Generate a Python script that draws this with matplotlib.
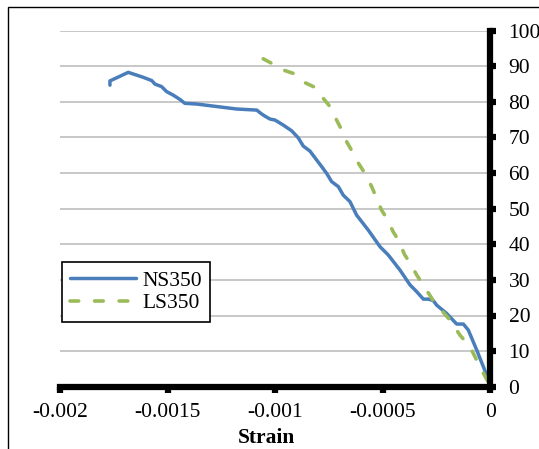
import matplotlib
matplotlib.use("Agg")
import matplotlib.pyplot as plt
from matplotlib.patches import Rectangle

# NS350 load–strain curve
ns_strain = [-0.001768, -0.001768, -0.001725, -0.001683, -0.001613, -0.001574, -0.001559,
             -0.001528, -0.001505, -0.001474, -0.001443, -0.001420, -0.001365, -0.001272,
             -0.001179, -0.001086, -0.001063, -0.001048, -0.001025, -0.001001, -0.000963,
             -0.000924, -0.000893, -0.000870, -0.000839, -0.000808, -0.000784, -0.000761,
             -0.000738, -0.000707, -0.000684, -0.000653, -0.000622, -0.000568, -0.000513,
             -0.000475, -0.000421, -0.000374, -0.000343, -0.000312, -0.000289, -0.000266,
             -0.000250, -0.000204, -0.000157, -0.000126, -0.000103, -0.000064, -0.000018, 0.0]
ns_load = [84.7, 85.9, 87.1, 88.3, 86.9, 86.0, 85.0,
           84.3, 82.9, 81.9, 80.7, 79.6, 79.4, 78.7,
           78.0, 77.7, 76.6, 76.0, 75.2, 74.9, 73.5,
           71.9, 69.9, 67.6, 66.2, 63.7, 61.8, 59.9,
           57.6, 56.2, 53.8, 52.0, 48.2, 44.0, 39.3,
           37.0, 32.8, 28.6, 26.7, 24.6, 24.6, 24.2,
           22.9, 20.6, 17.6, 17.6, 15.9, 10.3, 3.3, 0.0]

# LS350 load–strain curve
ls_strain = [-0.001056, -0.001009, -0.000955, -0.000916, -0.000862, -0.000816, -0.000777,
             -0.000746, -0.000715, -0.000691, -0.000668, -0.000638, -0.000614, -0.000583,
             -0.000552, -0.000506, -0.000482, -0.000452, -0.000428, -0.000400, -0.000374,
             -0.000343, -0.000328, -0.000281, -0.000258, -0.000235, -0.000188, -0.000142,
             -0.000095, -0.000057, 0.0]
ls_load = [92.1, 90.6, 88.8, 88.0, 85.4, 84.1, 81.0,
           78.7, 74.9, 72.1, 68.8, 65.6, 62.8, 59.9,
           56.2, 49.6, 47.3, 43.5, 41.2, 37.2, 34.7,
           31.4, 30.0, 25.6, 23.4, 22.0, 18.7, 14.5,
           11.2, 6.6, 0.0]

x_ticks = [-0.002, -0.0015, -0.001, -0.0005, 0]
x_ticklabels = ["-0.002", "-0.0015", "-0.001", "-0.0005", "0"]
y_ticks = list(range(0, 101, 10))

plt.rcParams["font.family"] = ["Liberation Serif", "DejaVu Serif"]
FS = 15.5

fig = plt.figure(figsize=(5.39, 4.49), dpi=100)
fig.patches.append(Rectangle((8 / 539, -0.1), 1.2, 1 - 7 / 449 + 0.1,
                             transform=fig.transFigure, fill=False,
                             edgecolor="black", linewidth=1.0))

ax = fig.add_axes([60 / 539, 1 - 386.7 / 449, 430.5 / 539, 356 / 449])
ax.plot(ns_strain, ns_load, color="#4a7ebb", linewidth=2.5,
        solid_capstyle="round", solid_joinstyle="round", label="NS350", zorder=3)
ax.plot(ls_strain, ls_load, color="#9bbb59", linewidth=2.6,
        linestyle=(0, (2.4, 4.4)), dash_capstyle="round", label="LS350", zorder=3)

ax.set_xlim(-0.002, 0)
ax.set_ylim(0, 100)
ax.set_xticks(x_ticks)
ax.set_xticklabels(x_ticklabels, fontsize=FS)
ax.set_yticks(y_ticks)
ax.set_yticklabels([str(v) for v in y_ticks], fontsize=FS)

ax.yaxis.tick_right()
ax.grid(axis="y", color="#bfbfbf", linewidth=1.2)
ax.set_axisbelow(True)

for side in ("left", "top"):
    ax.spines[side].set_visible(False)
for side in ("right", "bottom"):
    ax.spines[side].set_linewidth(4.5)
    ax.spines[side].set_color("black")
    ax.spines[side].set_zorder(4)

ax.tick_params(axis="x", direction="out", length=4, width=4.5, pad=8)
ax.tick_params(axis="y", direction="out", length=4, width=4.5, pad=9)

fig.text(266.5 / 539, 1 - 443 / 449, "Strain", fontsize=FS, fontweight="bold",
         ha="center", va="baseline")

leg = ax.legend(loc="upper left", bbox_to_anchor=(61.7 / 539, 1 - 262.3 / 449),
                bbox_transform=fig.transFigure, borderaxespad=0, fontsize=FS,
                frameon=True, fancybox=False, handlelength=3.05, handletextpad=0.28,
                borderpad=0.4, labelspacing=0.1)
leg.get_frame().set_edgecolor("black")
leg.get_frame().set_linewidth(1.2)
leg.get_frame().set_alpha(1)

fig.savefig("out.png", dpi=100)
